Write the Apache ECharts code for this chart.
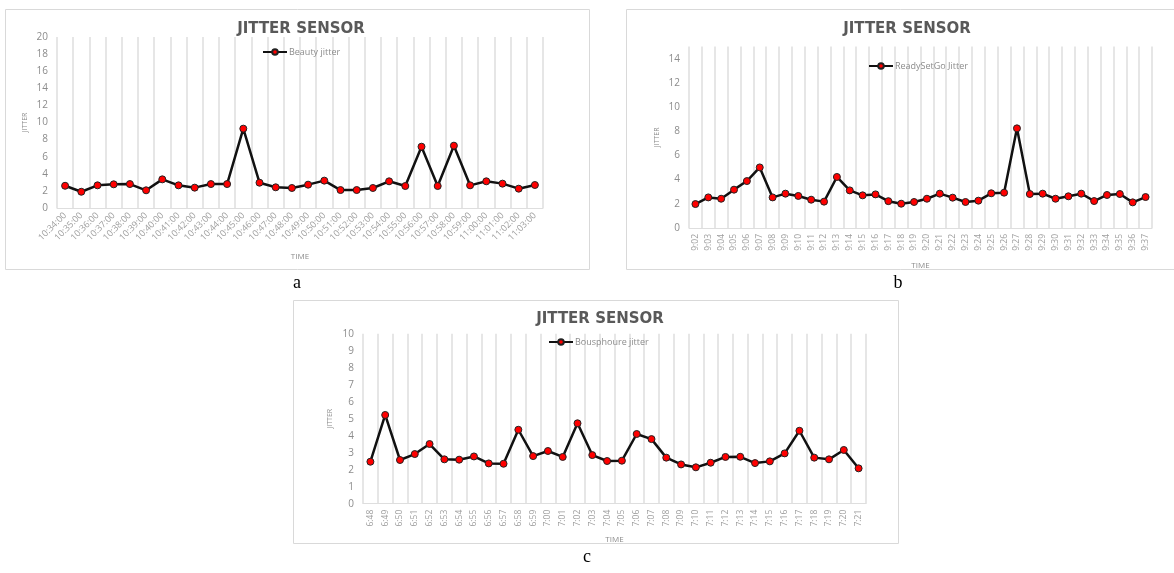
<!DOCTYPE html>
<html>
<head>
<meta charset="utf-8">
<script src="https://cdn.jsdelivr.net/npm/echarts@6.0.0/dist/echarts.min.js"></script>
<style>
  html, body { margin: 0; padding: 0; background: #fff; }
  #main { width: 1174px; height: 573px; }
</style>
</head>
<body>
<div id="main"></div>
<script>
// chart a
var timesA = ['10:34:00', '10:35:00', '10:36:00', '10:37:00', '10:38:00', '10:39:00', '10:40:00', '10:41:00',
  '10:42:00', '10:43:00', '10:44:00', '10:45:00', '10:46:00', '10:47:00', '10:48:00', '10:49:00', '10:50:00',
  '10:51:00', '10:52:00', '10:53:00', '10:54:00', '10:55:00', '10:56:00', '10:57:00', '10:58:00', '10:59:00',
  '11:00:00', '11:01:00', '11:02:00', '11:03:00'];
var beautyJitter = [2.6, 1.9, 2.65, 2.77, 2.8, 2.07, 3.35, 2.65, 2.38, 2.8, 2.8, 9.28, 2.96, 2.42, 2.34,
  2.73, 3.2, 2.1, 2.1, 2.34, 3.12, 2.57, 7.17, 2.57, 7.29, 2.65, 3.12, 2.85, 2.26, 2.69];

// chart b
var timesB = ['9:02', '9:03', '9:04', '9:05', '9:06', '9:07', '9:08', '9:09', '9:10', '9:11', '9:12', '9:13',
  '9:14', '9:15', '9:16', '9:17', '9:18', '9:19', '9:20', '9:21', '9:22', '9:23', '9:24', '9:25', '9:26',
  '9:27', '9:28', '9:29', '9:30', '9:31', '9:32', '9:33', '9:34', '9:35', '9:36', '9:37'];
var readySetGoJitter = [1.98, 2.53, 2.42, 3.17, 3.88, 5.01, 2.53, 2.84, 2.65, 2.34, 2.18, 4.22, 3.11, 2.7,
  2.78, 2.22, 2.01, 2.15, 2.42, 2.84, 2.51, 2.15, 2.26, 2.87, 2.92, 8.24, 2.81, 2.84, 2.42, 2.62, 2.84,
  2.23, 2.73, 2.81, 2.12, 2.56];

// chart c
var timesC = ['6:48', '6:49', '6:50', '6:51', '6:52', '6:53', '6:54', '6:55', '6:56', '6:57', '6:58', '6:59',
  '7:00', '7:01', '7:02', '7:03', '7:04', '7:05', '7:06', '7:07', '7:08', '7:09', '7:10', '7:11', '7:12',
  '7:13', '7:14', '7:15', '7:16', '7:17', '7:18', '7:19', '7:20', '7:21'];
var bousphoureJitter = [2.47, 5.22, 2.57, 2.92, 3.51, 2.61, 2.59, 2.78, 2.37, 2.35, 4.35, 2.8, 3.1, 2.75,
  4.73, 2.86, 2.51, 2.53, 4.1, 3.8, 2.71, 2.31, 2.14, 2.41, 2.75, 2.76, 2.39, 2.49, 2.96, 4.29, 2.71,
  2.61, 3.16, 2.08];

var gridLine = '#dedede';
var labelGray = '#8c8c8c';

var makeXAxis = function (idx, data, rotate, nameGap, fontSize) {
  return {
    type: 'category',
    gridIndex: idx,
    data: data,
    name: 'TIME',
    nameLocation: 'middle',
    nameGap: nameGap,
    nameTextStyle: { color: labelGray, fontSize: 8, fontFamily: 'Open Sans' },
    axisLine: { lineStyle: { color: gridLine } },
    axisTick: { show: false },
    axisLabel: { interval: 0, rotate: rotate, color: '#9e9e9e', fontSize: fontSize, fontFamily: 'Open Sans', margin: 6 },
    splitLine: { show: true, interval: 0, lineStyle: { color: gridLine, width: 1.5 } }
  };
};

var makeYAxis = function (idx, max, interval, nameGap, showMax) {
  return {
    type: 'value',
    gridIndex: idx,
    min: 0,
    max: max,
    interval: interval,
    name: 'JITTER',
    nameLocation: 'middle',
    nameGap: nameGap,
    nameTextStyle: { color: labelGray, fontSize: 7, fontFamily: 'Open Sans' },
    axisLine: { show: false },
    axisTick: { show: false },
    axisLabel: { color: labelGray, fontSize: 10, fontFamily: 'Open Sans', margin: 9, showMaxLabel: showMax },
    splitLine: { show: false }
  };
};

var makeSerie = function (name, idx, values) {
  return {
    name: name,
    type: 'line',
    xAxisIndex: idx,
    yAxisIndex: idx,
    data: values,
    symbol: 'circle',
    symbolSize: 7,
    lineStyle: { color: '#111', width: 2.5 },
    itemStyle: { color: '#ff0000', borderColor: '#222', borderWidth: 1 },
    z: 3
  };
};

var makeTitle = function (cx, top) {
  return {
    text: 'JITTER SENSOR',
    left: cx,
    top: top,
    textAlign: 'center',
    textStyle: { color: '#595959', fontSize: 15, fontWeight: 'bold', fontFamily: 'DejaVu Sans' }
  };
};

var makeLegend = function (name, left, top) {
  return {
    data: [name],
    left: left,
    top: top,
    itemWidth: 24,
    itemHeight: 7,
    itemGap: 2,
    textStyle: { color: labelGray, fontSize: 9, fontFamily: 'Open Sans', padding: [0, 0, 0, -3] }
  };
};

var frame = function (x, y, w, h) {
  return {
    type: 'rect',
    shape: { x: x + 0.5, y: y + 0.5, width: w, height: h },
    style: { fill: 'none', stroke: '#d9d9d9', lineWidth: 1 },
    silent: true
  };
};

var letter = function (t, x, y) {
  return {
    type: 'text',
    x: x,
    y: y,
    style: { text: t, fill: '#000', font: '18px "Liberation Serif"', textAlign: 'center', textVerticalAlign: 'middle' }
  };
};

var option = {
  animation: false,
  title: [makeTitle(296, 17), makeTitle(902, 17), makeTitle(595, 307)],
  legend: [
    makeLegend('Beauty jitter', 257, 42.5),
    makeLegend('ReadySetGo Jitter', 863, 56.5),
    makeLegend('Bousphoure jitter', 543, 332.5)
  ],
  grid: [
    { left: 57, top: 37, width: 486, height: 171 },
    { left: 689, top: 46.6, width: 463, height: 181.4 },
    { left: 363, top: 333.7, width: 503, height: 170 }
  ],
  xAxis: [
    makeXAxis(0, timesA, 45, 45, 9),
    makeXAxis(1, timesB, 90, 34, 8.5),
    makeXAxis(2, timesC, 90, 32, 8.5)
  ],
  yAxis: [
    makeYAxis(0, 20, 2, 29, true),
    makeYAxis(1, 15, 2, 29, false),
    makeYAxis(2, 10, 1, 30, true)
  ],
  series: [
    makeSerie('Beauty jitter', 0, beautyJitter),
    makeSerie('ReadySetGo Jitter', 1, readySetGoJitter),
    makeSerie('Bousphoure jitter', 2, bousphoureJitter)
  ],
  graphic: [
    frame(5, 9, 584, 260),
    frame(626, 9, 560, 260),
    frame(293, 300, 605, 243),
    letter('a', 297, 283),
    letter('b', 898, 283),
    letter('c', 587, 557)
  ]
};

var myChart = echarts.init(document.getElementById('main'));
myChart.setOption(option, true);
</script>
</body>
</html>
